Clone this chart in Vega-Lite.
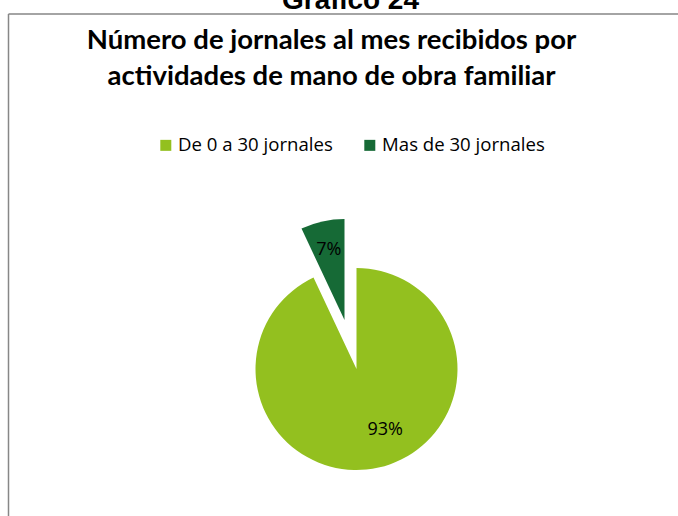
{
  "$schema": "https://vega.github.io/schema/vega-lite/v6.json",
  "width": 670,
  "height": 502,
  "autosize": {"type": "none"},
  "padding": {"left": 8.5, "top": 14, "right": 0, "bottom": 0},
  "background": "white",
  "view": {"stroke": "#878787", "strokeWidth": 1.5, "strokeDash": [670, 1172, 502, 0]},
  "title": {
    "text": ["Número de jornales al mes recibidos por", "actividades de mano de obra familiar"],
    "font": "Lato",
    "fontSize": 27.5,
    "fontWeight": "bold",
    "color": "#000000",
    "anchor": "middle",
    "frame": "group",
    "lineHeight": 36,
    "offset": -103,
    "dx": -12
  },
  "data": {
    "values": [
      {"categoria": "De 0 a 30 jornales", "proporcion": 0.93},
      {"categoria": "Mas de 30 jornales", "proporcion": 0.07}
    ]
  },
  "config": {
    "view": {"stroke": "#878787", "strokeWidth": 1.5, "strokeDash": [670, 1172, 502, 0]},
    "legend": {
      "orient": "none",
      "legendX": 148,
      "legendY": -27,
      "direction": "horizontal",
      "columns": 2,
      "padding": 0,
      "title": "Gráfico 24",
      "titleFont": "Liberation Sans",
      "titleFontSize": 28,
      "titleFontWeight": "bold",
      "titleColor": "#000000",
      "titleAnchor": "middle",
      "titlePadding": 121,
      "symbolType": "square",
      "symbolSize": 121,
      "symbolStrokeWidth": 0,
      "symbolOpacity": 1,
      "labelFont": "Open Sans",
      "labelFontSize": 18.6,
      "labelColor": "#000000",
      "labelOffset": 3,
      "columnPadding": 27,
      "labelLimit": 400
    }
  },
  "transform": [
    {"stack": "proporcion", "groupby": [], "sort": [{"field": "categoria", "order": "ascending"}], "as": ["inicio", "fin"]}
  ],
  "layer": [
    {
      "transform": [{"filter": "datum.categoria === 'De 0 a 30 jornales'"}],
      "mark": {"type": "arc", "outerRadius": 101, "xOffset": 13, "yOffset": 104},
      "encoding": {
        "theta": {"field": "inicio", "type": "quantitative", "scale": {"domain": [0, 1]}},
        "theta2": {"field": "fin"},
        "color": {
          "field": "categoria",
          "type": "nominal",
          "scale": {"domain": ["De 0 a 30 jornales", "Mas de 30 jornales"], "range": ["#93C01F", "#166A36"]},
          "legend": {"title": "Gráfico 24"}
        }
      }
    },
    {
      "transform": [{"filter": "datum.categoria === 'Mas de 30 jornales'"}],
      "mark": {"type": "arc", "outerRadius": 101, "xOffset": 1, "yOffset": 55},
      "encoding": {
        "theta": {"field": "inicio", "type": "quantitative"},
        "theta2": {"field": "fin"},
        "color": {"field": "categoria", "type": "nominal"}
      }
    },
    {
      "mark": {"type": "text", "radius": 67, "xOffset": 13, "yOffset": 104, "dx": 14, "dy": -4, "font": "Open Sans", "fontSize": 18, "color": "#000000", "align": "center", "baseline": "middle"},
      "encoding": {
        "theta": {"field": "proporcion", "type": "quantitative", "stack": true},
        "order": {"field": "proporcion", "type": "quantitative", "sort": "descending"},
        "text": {"field": "proporcion", "type": "quantitative", "format": ".0%"},
        "opacity": {"condition": {"test": "datum.categoria === 'De 0 a 30 jornales'", "value": 1}, "value": 0}
      }
    },
    {
      "mark": {"type": "text", "radius": 72, "xOffset": 1, "yOffset": 55, "font": "Open Sans", "fontSize": 18, "color": "#000000", "align": "center", "baseline": "middle"},
      "encoding": {
        "theta": {"field": "proporcion", "type": "quantitative", "stack": true},
        "order": {"field": "proporcion", "type": "quantitative", "sort": "descending"},
        "text": {"field": "proporcion", "type": "quantitative", "format": ".0%"},
        "opacity": {"condition": {"test": "datum.categoria === 'Mas de 30 jornales'", "value": 1}, "value": 0}
      }
    }
  ]
}
